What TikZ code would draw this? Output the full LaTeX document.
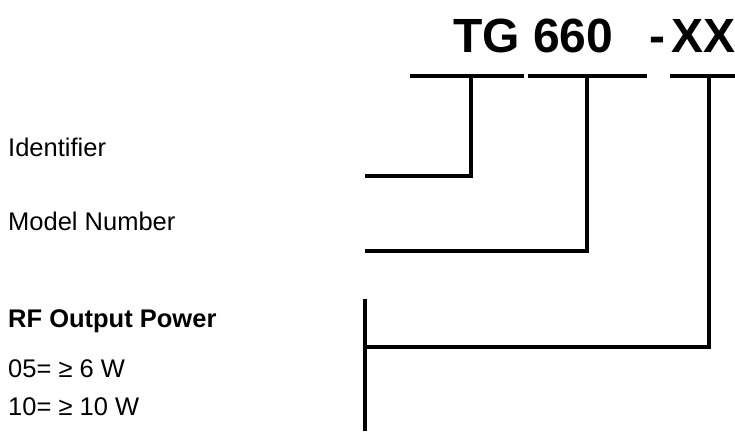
\documentclass[tikz,border=0pt]{standalone}
\usepackage{fontspec}
\setmainfont{Liberation Sans}
\begin{document}
\begin{tikzpicture}[x=1pt,y=-1pt,
  bar/.style={line width=3.6pt,line cap=butt,line join=miter},
  lbl/.style={anchor=base west,inner sep=0pt,font=\fontsize{25.5}{28}\selectfont},
  blbl/.style={lbl,font=\fontsize{25.5}{28}\selectfont\bfseries},
  ttl/.style={anchor=base west,inner sep=0pt,font=\fontsize{48}{50}\selectfont\bfseries}]
\useasboundingbox (0,0) rectangle (735,431);
% title
\node[ttl] (tg) at (453,52) {TG 660};
\node[ttl] (dash) at (649,52) {-};
\node[ttl] (xx) at (671,52) {XX};
% labels
\node[lbl] (ident) at (8,156) {Identifier};
\node[lbl] (model) at (8,230) {Model Number};
\node[blbl] (rf) at (8,327) {RF Output Power};
\node[lbl] (o5) at (8,377) {05= ≥ 6 W};
\node[lbl] (o10) at (8,415) {10= ≥ 10 W};
% underline bars
\coordinate (b1s) at (410,76); \coordinate (b1e) at (524,76);
\coordinate (b2s) at (528,76); \coordinate (b2e) at (647,76);
\coordinate (b3s) at (670,76); \coordinate (b3e) at (736,76);
\draw[bar] (b1s) -- (b1e);
\draw[bar] (b2s) -- (b2e);
\draw[bar] (b3s) -- (b3e);
% connection points on bars
\coordinate (c1) at (471,74.2);
\coordinate (c2) at (587,74.2);
\coordinate (c3) at (709,74.2);
% label ends
\coordinate (l1) at (365,176);
\coordinate (l2) at (365,251);
\coordinate (l3) at (365,347);
\coordinate (vtop) at (365,299);
\coordinate (vbot) at (365,431);
\draw[bar] (l1) -| (c1);
\draw[bar] (l2) -| (c2);
\draw[bar] (l3) -| (c3);
\draw[bar] (vtop) -- (vbot);
\end{tikzpicture}
\end{document}
